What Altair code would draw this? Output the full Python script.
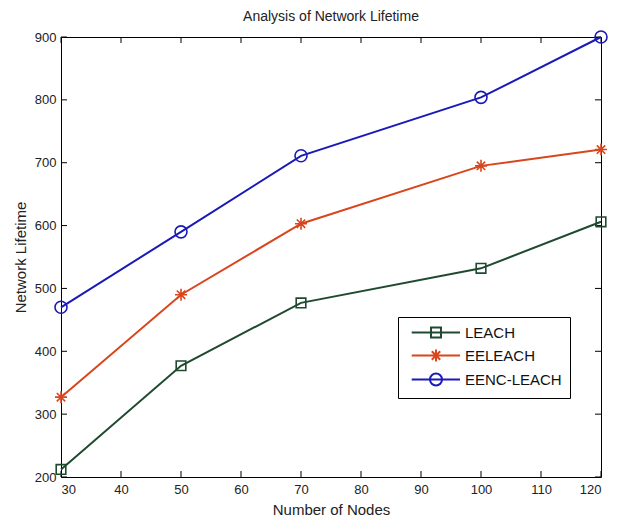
import altair as alt
import pandas as pd

# ---- data ----
nodes = [30, 50, 70, 100, 120]
leach = [212, 377, 477, 532, 606]
eeleach = [327, 490, 603, 695, 721]
eenc_leach = [470, 590, 711, 804, 900]
series_names = ["LEACH", "EELEACH", "EENC-LEACH"]
series_colors = ["#1f4a30", "#d9451c", "#1a1ab8"]
x_ticks = [30, 40, 50, 60, 70, 80, 90, 100, 110, 120]
y_ticks = [200, 300, 400, 500, 600, 700, 800, 900]

rows = []
for name, vals in zip(series_names, [leach, eeleach, eenc_leach]):
    for n, v in zip(nodes, vals):
        rows.append({"nodes": n, "lifetime": v, "series": name})
df = pd.DataFrame(rows)

W, H = 540, 440
FONT = "Liberation Sans"

# marker shapes on the plot (unit = 6 px with size 144)
plot_shapes = [
    "M-0.8,-0.8L0.8,-0.8L0.8,0.8L-0.8,0.8Z",
    "M0,-1L0,1M-1,0L1,0M-0.7,-0.7L0.7,0.7M-0.7,0.7L0.7,-0.7",
    "circle",
]
# legend symbols: line with marker
line_part = "M-0.3,0L7.75,0"
legend_shapes = [
    line_part + "M2.92,-0.83L4.58,-0.83L4.58,0.83L2.92,0.83Z",
    line_part + "M3.75,-1L3.75,1M2.75,0L4.75,0M3.05,-0.7L4.45,0.7M3.05,0.7L4.45,-0.7",
    line_part + "M4.75,0A1,1 0 1,1 2.75,0A1,1 0 1,1 4.75,0",
]

x_scale = alt.Scale(domain=[30, 120], nice=False, zero=False)
y_scale = alt.Scale(domain=[200, 900], nice=False, zero=False)

x_enc = alt.X(
    "nodes:Q", scale=x_scale,
    axis=alt.Axis(values=x_ticks, tickSize=0, domain=False, grid=False,
                  labelFontSize=13, labelPadding=6, labelFont=FONT,
                  title="Number of Nodes", titleFontSize=15, titleFont=FONT,
                  titleFontWeight="normal", titlePadding=6, titleColor="#222",
                  labelColor="#222"),
)
y_enc = alt.Y(
    "lifetime:Q", scale=y_scale,
    axis=alt.Axis(values=y_ticks, tickSize=0, domain=False, grid=False,
                  labelFontSize=13, labelPadding=5, labelFont=FONT,
                  title="Network Lifetime", titleFontSize=15, titleFont=FONT,
                  titleFontWeight="normal", titlePadding=6, titleColor="#222",
                  labelColor="#222"),
)
color_scale = alt.Scale(domain=series_names, range=series_colors)

base = alt.Chart(df)

lines = base.mark_line(strokeWidth=2).encode(
    x=x_enc, y=y_enc,
    color=alt.Color("series:N", scale=color_scale, legend=None),
    detail="series:N",
)

points = base.mark_point(filled=False, size=144, strokeWidth=1.6, opacity=1).encode(
    x="nodes:Q", y="lifetime:Q",
    color=alt.Color("series:N", scale=color_scale, legend=None),
    shape=alt.Shape("series:N", scale=alt.Scale(domain=series_names, range=plot_shapes), legend=None),
)

leg = dict(title=None, orient="none", legendX=337, legendY=280, direction="vertical")
legend_layer = base.mark_point(filled=False, size=144, opacity=1, yOffset=5000, clip=True).encode(
    x="nodes:Q", y="lifetime:Q",
    color=alt.Color("series:N", scale=color_scale, sort=series_names, legend=alt.Legend(**leg)),
    shape=alt.Shape("series:N", sort=series_names,
                    scale=alt.Scale(domain=series_names, range=legend_shapes),
                    legend=alt.Legend(**leg)),
)

# inward ticks (MATLAB style) on all four sides
xt = pd.DataFrame({"t": x_ticks})
yt = pd.DataFrame({"t": y_ticks})
TL = 6
tick_bottom = alt.Chart(xt).mark_rule(color="black", strokeWidth=1).encode(
    x=alt.X("t:Q", scale=x_scale), y=alt.value(H), y2=alt.value(H - TL))
tick_top = alt.Chart(xt).mark_rule(color="black", strokeWidth=1).encode(
    x=alt.X("t:Q", scale=x_scale), y=alt.value(0), y2=alt.value(TL))
tick_left = alt.Chart(yt).mark_rule(color="black", strokeWidth=1).encode(
    y=alt.Y("t:Q", scale=y_scale), x=alt.value(0), x2=alt.value(TL))
tick_right = alt.Chart(yt).mark_rule(color="black", strokeWidth=1).encode(
    y=alt.Y("t:Q", scale=y_scale), x=alt.value(W), x2=alt.value(W - TL))

chart = alt.layer(
    tick_bottom, tick_top, tick_left, tick_right, lines, points, legend_layer
).resolve_scale(
    color="independent", shape="independent"
).properties(
    width=W, height=H,
    background="white",
    title=alt.TitleParams("Analysis of Network Lifetime", fontSize=14,
                          fontWeight="normal", font=FONT, color="#222", offset=4),
    autosize=alt.AutoSizeParams(type="none"),
    padding={"left": 53, "top": 29, "right": 15, "bottom": 39},
).configure_view(
    stroke="black", strokeWidth=1
).configure_legend(
    padding=8, rowPadding=3, fillColor="white", strokeColor="black",
    strokeWidth=1, cornerRadius=0, symbolSize=144, symbolStrokeWidth=2,
    labelFontSize=15, labelFont=FONT, labelColor="#111", labelOffset=44,
)

chart.save("out.html", embed_options={"renderer": "svg", "actions": False})
